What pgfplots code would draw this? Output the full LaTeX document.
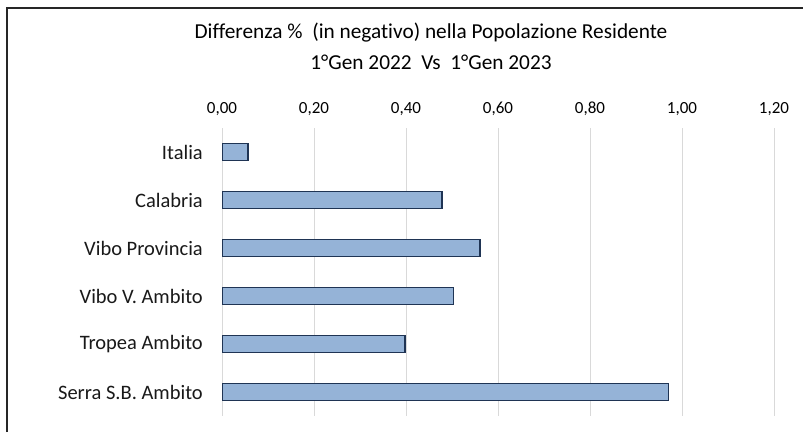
\documentclass[border=0pt]{standalone}
\usepackage{fontspec}
\setmainfont{Carlito}[Ligatures={NoCommon}]
\usepackage{pgfplots}
\pgfplotsset{compat=1.18}
\definecolor{barfill}{RGB}{149,179,215}
\definecolor{barline}{RGB}{31,52,84}
\definecolor{gridc}{RGB}{217,217,217}
\definecolor{frame}{RGB}{38,38,38}
\begin{document}
\begin{tikzpicture}[x=1pt,y=1pt]
\path[use as bounding box] (0,0) rectangle (803,432);
\draw[frame, line width=2.2pt] (7,0) -- (7,424) -- (803,424);
\node[font=\fontsize{21.3}{25}\selectfont, anchor=center] at (431,399) {Differenza \%\ \ (in negativo) nella Popolazione Residente};
\node[font=\fontsize{21.3}{25}\selectfont, anchor=center] at (431,370) {1°Gen 2022\ \ Vs\ \ 1°Gen 2023};
\begin{axis}[
  at={(222pt,16pt)}, anchor=south west,
  scale only axis, width=552pt, height=288pt,
  xbar, bar width=17pt,
  xmin=0, xmax=1.2,
  ymin=-0.5, ymax=5.5, y dir=reverse,
  xtick={0,0.2,0.4,0.6,0.8,1.0,1.2},
  ytick={0,1,2,3,4,5},
  yticklabels={Italia,Calabria,Vibo Provincia,Vibo V. Ambito,Tropea Ambito,Serra S.B. Ambito},
  xticklabel pos=upper,
  axis line style={draw=none},
  major tick length=0pt,
  xmajorgrids, grid style={gridc, line width=1pt},
  /pgf/number format/.cd, use comma, fixed, fixed zerofill, precision=2, assume math mode=true,
  /pgfplots/.cd,
  xticklabel style={font=\fontsize{17}{20}\selectfont, text=black, inner sep=0pt, anchor=base, yshift=15pt},
  yticklabel style={font=\fontsize{20.5}{24}\selectfont, text=black!90, inner sep=0pt, anchor=east, xshift=-19pt},
]
\addplot[fill=barfill, draw=barline, line width=1.6pt] coordinates {
  (0.057,0) (0.478,1) (0.561,2) (0.503,3) (0.398,4) (0.971,5)
};
\end{axis}
\end{tikzpicture}
\end{document}
